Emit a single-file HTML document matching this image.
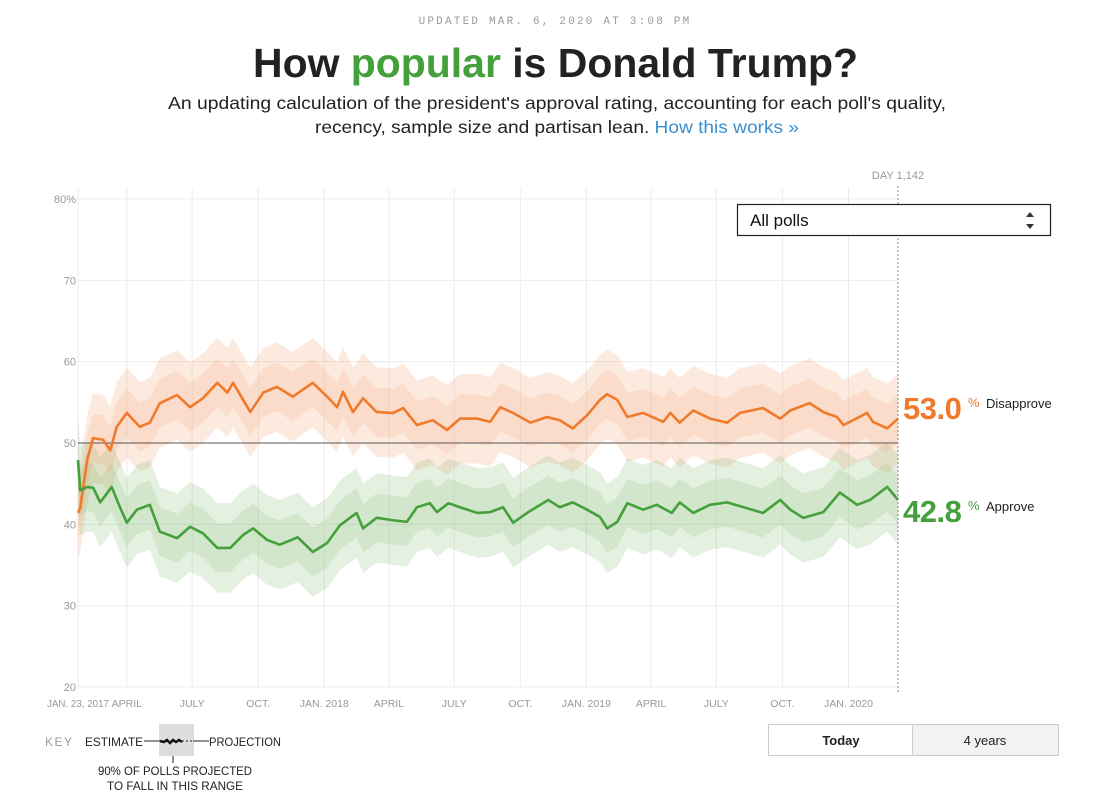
<!DOCTYPE html>
<html><head><meta charset="utf-8"><style>
html,body{margin:0;padding:0;background:#fff;}
svg text{font-family:"Liberation Sans",sans-serif;}
</style></head><body>
<svg id="c" width="1111" height="800" viewBox="0 0 1111 800" xmlns="http://www.w3.org/2000/svg">
<text x="555" y="24" text-anchor="middle" font-size="11" fill="#999" letter-spacing="2.2" style="font-family:'Liberation Mono',monospace">UPDATED MAR. 6, 2020 AT 3:08 PM</text>
<text x="555.5" y="77" text-anchor="middle" font-size="41" font-weight="bold" fill="#222" textLength="605" lengthAdjust="spacingAndGlyphs">How <tspan fill="#43a03a">popular</tspan> is Donald Trump?</text>
<text x="557" y="109" text-anchor="middle" font-size="17.5" fill="#222" textLength="778" lengthAdjust="spacingAndGlyphs">An updating calculation of the president's approval rating, accounting for each poll's quality,</text>
<text x="557" y="133" text-anchor="middle" font-size="17.5" fill="#222" textLength="484" lengthAdjust="spacingAndGlyphs">recency, sample size and partisan lean. <tspan fill="#3a8fd0">How this works »</tspan></text>
<g id="grid"></g>
<g id="bands"></g>
<g id="lines"></g>
<g id="axes"></g>
<text x="898" y="179" text-anchor="middle" font-size="11" fill="#999">DAY 1,142</text>
<g>
<rect x="737.5" y="204.5" width="313" height="31" fill="#fff" stroke="#222" stroke-width="1.2"/>
<text x="750" y="226" font-size="17" fill="#111">All polls</text>
<path d="M1030 212 l4 5 h-8z M1030 229 l4 -5 h-8z" fill="#333"/>
</g>
<g>
<text x="903" y="419" font-size="31" font-weight="bold" fill="#f07a2c" letter-spacing="-0.5">53.0</text>
<text x="968" y="407" font-size="13" fill="#f07a2c">%</text>
<text x="986" y="408" font-size="13" fill="#222">Disapprove</text>
</g>
<g>
<text x="903" y="522" font-size="31" font-weight="bold" fill="#43a03a" letter-spacing="-0.5">42.8</text>
<text x="968" y="510" font-size="13" fill="#43a03a">%</text>
<text x="986" y="511" font-size="13" fill="#222">Approve</text>
</g>
<g>
<text x="45" y="746" font-size="12" fill="#999" letter-spacing="1.5">KEY</text>
<text x="85" y="746" font-size="12" fill="#222" textLength="58" lengthAdjust="spacingAndGlyphs">ESTIMATE</text>
<rect x="159" y="724" width="35" height="32" fill="#ddd"/>
<line x1="144" y1="741" x2="160" y2="741" stroke="#222"/>
<path d="M160 741 l4 1 l3 -2 l3 3 l3 -3 l3 2 l3 -2 l3 2" stroke="#111" stroke-width="2.5" fill="none"/>
<line x1="182" y1="741" x2="193" y2="741" stroke="#222" stroke-dasharray="2,2"/>
<line x1="193" y1="741" x2="209" y2="741" stroke="#222"/>
<text x="209" y="746" font-size="12" fill="#222" textLength="72" lengthAdjust="spacingAndGlyphs">PROJECTION</text>
<line x1="173" y1="756" x2="173" y2="763" stroke="#222"/>
<text x="175" y="775" text-anchor="middle" font-size="12" fill="#222" textLength="154" lengthAdjust="spacingAndGlyphs">90% OF POLLS PROJECTED</text>
<text x="175" y="790" text-anchor="middle" font-size="12" fill="#222" textLength="136" lengthAdjust="spacingAndGlyphs">TO FALL IN THIS RANGE</text>
</g>
<g>
<rect x="768.5" y="724.5" width="144" height="31" fill="#fff" stroke="#ccc"/>
<rect x="912.5" y="724.5" width="146" height="31" fill="#f2f2f2" stroke="#ccc"/>
<text x="841" y="745" text-anchor="middle" font-size="13" font-weight="bold" fill="#222">Today</text>
<text x="985" y="745" text-anchor="middle" font-size="13" fill="#222">4 years</text>
</g>
</svg>
<script>
const disDays=[0,3,13,21,35,45,54,68,86,100,114,138,156,174,194,208,216,240,258,277,299,327,347,361,369,383,397,416,439,453,472,494,514,532,556,574,588,606,630,653,671,689,709,727,737,751,765,787,815,825,838,857,880,904,922,954,978,992,1019,1038,1057,1066,1099,1107,1127,1142];
const disVals=[41.4,42,48,50.6,50.4,49.1,52,53.7,52,52.5,54.9,55.9,54.4,55.5,57.4,56.2,57.4,53.8,56.2,56.9,55.7,57.4,55.7,54.4,56.3,53.8,55.5,53.8,53.7,54.3,52.2,52.8,51.6,53,53,52.6,54.4,53.7,52.5,53.2,52.8,51.8,53.4,55.3,56,55.3,53.2,53.7,52.6,53.7,52.5,54,53,52.5,53.7,54.3,53,54,54.9,53.8,53.2,52.2,53.7,52.6,51.8,53];
const appDays=[0,3,13,21,31,47,56,68,82,100,114,138,156,174,194,212,230,244,263,281,306,327,347,365,388,397,416,439,458,472,490,500,516,532,556,574,592,606,627,655,671,689,709,727,737,751,765,787,806,827,838,857,880,904,931,954,978,992,1010,1038,1061,1085,1103,1127,1142];
const appVals=[47.9,44.2,44.6,44.5,42.7,44.6,42.6,40.2,41.8,42.4,39.1,38.3,39.7,38.9,37.1,37.1,38.7,39.5,38.1,37.5,38.4,36.6,37.7,39.9,41.4,39.5,40.8,40.5,40.3,42.1,42.6,41.5,42.6,42.1,41.4,41.5,42.1,40.2,41.5,43,42.1,42.7,41.8,40.9,39.5,40.3,42.6,41.8,42.4,41.4,42.7,41.4,42.4,42.7,42,41.4,43,41.8,40.8,41.5,43.9,42.4,43,44.6,43];
const yTicks=[20,30,40,50,60,70,80];
const xTickDays=[0,68,159,251,343,433,524,616,708,798,889,981,1073];
const xTickLabels=["JAN. 23, 2017","APRIL","JULY","OCT.","JAN. 2018","APRIL","JULY","OCT.","JAN. 2019","APRIL","JULY","OCT.","JAN. 2020"];
const todayDay=1142;

const NS="http://www.w3.org/2000/svg";
const x=d=>78+d*(820/1142);
const y=v=>443-(v-50)*8.133;
function mk(tag,attrs,parent){const e=document.createElementNS(NS,tag);for(const k in attrs)e.setAttribute(k,attrs[k]);parent.appendChild(e);return e;}
const grid=document.getElementById('grid'),bands=document.getElementById('bands'),lines=document.getElementById('lines'),axes=document.getElementById('axes');
yTicks.forEach(t=>{
  const l=mk('line',{x1:78,x2:898,y1:y(t),y2:y(t),stroke:'#ececec'},grid);
  
  
  const tx=mk('text',{x:76,y:y(t)+4,'text-anchor':'end','font-size':11,fill:'#999'},axes);
  
  
  tx.textContent=t===80?'80%':String(t);
});
xTickDays.forEach((d,i)=>{
  const l=mk('line',{x1:x(d),x2:x(d),y1:188,y2:687,stroke:'#ececec'},grid);
  
  
  const attrs=i===0?{x:47,y:707,'text-anchor':'start','font-size':10.5,fill:'#999',textLength:62,lengthAdjust:'spacingAndGlyphs'}:{x:x(d),y:707,'text-anchor':'middle','font-size':10.5,fill:'#999'};
  const tx=mk('text',attrs,axes);
  
  
  tx.textContent=xTickLabels[i];
});
function band(days,vals,spread,color,name){
  let top=days.map((d,i)=>x(d)+','+y(vals[i]+spread)).join(' ');
  let bot=days.map((d,i)=>x(d)+','+y(vals[i]-spread)).reverse().join(' ');
  const p=mk('polygon',{points:top+' '+bot,fill:color},bands);
  
  
}
band(disDays,disVals,5.5,'rgba(246,160,110,0.22)','disapprove-poll-band');
band(appDays,appVals,5.5,'rgba(120,180,100,0.2)','approve-poll-band');
band(disDays,disVals,3,'rgba(246,160,110,0.18)','disapprove-poll-core');
band(appDays,appVals,3,'rgba(120,180,100,0.16)','approve-poll-core');
const fifty=mk('line',{x1:78,x2:898,y1:y(50),y2:y(50),stroke:'#555','stroke-width':1},lines);


const dl=mk('polyline',{points:disDays.map((d,i)=>x(d)+','+y(disVals[i])).join(' '),fill:'none',stroke:'#f07a2c','stroke-width':2.6,'stroke-linejoin':'round'},lines);


const al=mk('polyline',{points:appDays.map((d,i)=>x(d)+','+y(appVals[i])).join(' '),fill:'none',stroke:'#43a03a','stroke-width':2.6,'stroke-linejoin':'round'},lines);


const tl=mk('line',{x1:x(todayDay),x2:x(todayDay),y1:186,y2:694,stroke:'#888','stroke-dasharray':'2,2'},axes);


</script>
</body></html>
